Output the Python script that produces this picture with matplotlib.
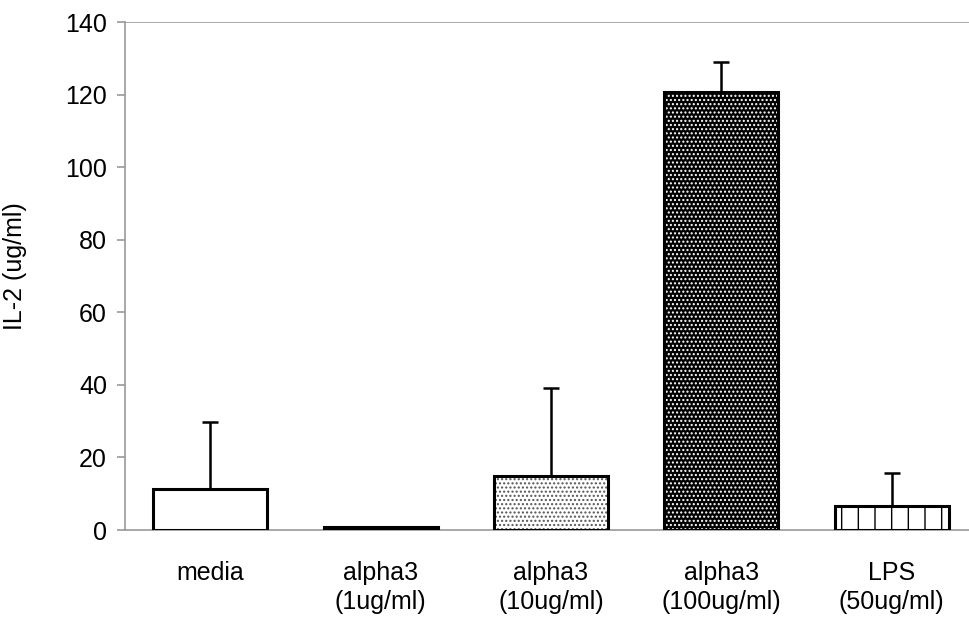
import numpy as np
import matplotlib.pyplot as plt

plt.rcParams["font.family"] = ["Liberation Sans", "DejaVu Sans"]
plt.rcParams["hatch.linewidth"] = 1.0

categories = ["media", "alpha3\n(1ug/ml)", "alpha3\n(10ug/ml)", "alpha3\n(100ug/ml)", "LPS\n(50ug/ml)"]
means = [11.3, 0.8, 14.9, 120.8, 6.6]
errors = [18.5, 0.0, 24.2, 8.3, 9.1]

faces = ["white", "black", "white", "black", "white"]
hatches = [None, None, "....", "....", "|"]
hatch_colors = ["black", "black", "#555555", "white", "black"]

fig = plt.figure(figsize=(9.7, 6.2), dpi=100)
ax = fig.add_axes([125 / 970, 1 - 530 / 620, 852 / 970, 508 / 620])

x = np.arange(len(categories))
for i in range(len(categories)):
    # hatch colour follows edgecolor, so fill+hatch first, then the outline
    ax.bar(x[i], means[i], width=0.67, color=faces[i], edgecolor=hatch_colors[i],
           linewidth=0, hatch=hatches[i], zorder=2)
    ax.bar(x[i], means[i], width=0.67, fill=False, edgecolor="black",
           linewidth=2.2, zorder=3)

mask = np.array(errors) > 0
ax.errorbar(x[mask], np.array(means)[mask],
            yerr=[np.zeros(mask.sum()), np.array(errors)[mask]],
            fmt="none", ecolor="black", elinewidth=1.8, capsize=5.5, capthick=1.8, zorder=1)

ax.set_xlim(-0.5, 4.5)
ax.set_ylim(0, 140)
ax.set_yticks(np.arange(0, 141, 20))
ax.axhline(140, color="#999999", lw=1.2, zorder=0)

for s in ["top", "right"]:
    ax.spines[s].set_visible(False)
for s in ["left", "bottom"]:
    ax.spines[s].set_color("#999999")
    ax.spines[s].set_linewidth(1.2)

ax.set_xticks(x)
ax.set_xticklabels(categories, fontsize=18, linespacing=1.3)
ax.tick_params(axis="x", length=0, pad=22)
ax.tick_params(axis="y", labelsize=18, length=6, color="#999999", width=1.2, pad=7)
ax.set_ylabel("IL-2 (ug/ml)", fontsize=18, labelpad=16)
ax.yaxis.set_label_coords(-0.115, 0.52)

plt.savefig("out.png", dpi=100)
